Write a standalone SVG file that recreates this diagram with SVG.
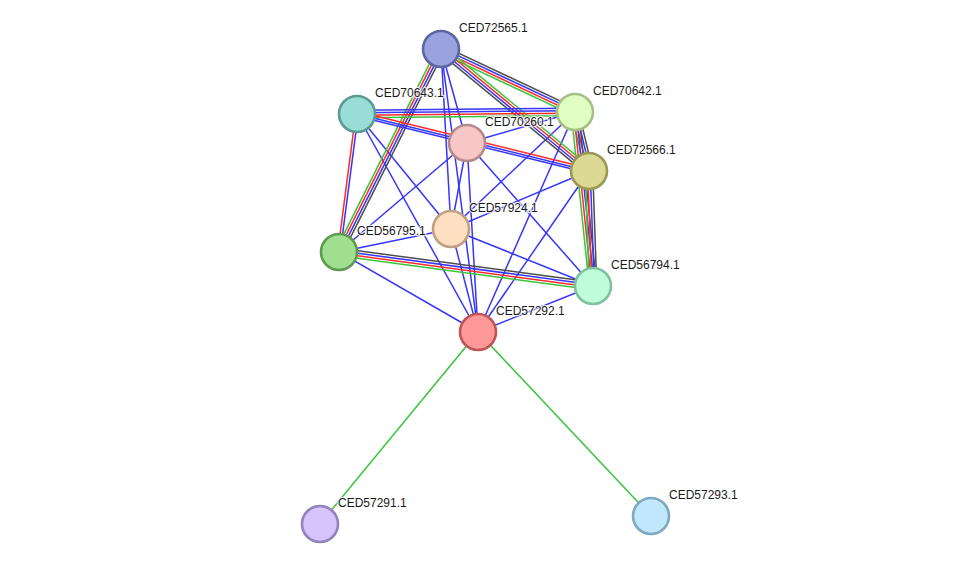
<svg xmlns="http://www.w3.org/2000/svg" width="975" height="570" viewBox="0 0 975 570">
<style>
line{stroke-width:1.5;fill:none}
.b{stroke:#3535fc}
.r{stroke:#fc2a2a}
.g{stroke:#3ac43a}
.k{stroke:#4d4d4d}
circle{stroke-width:2.6}
text{font-family:"Liberation Sans",Arial,sans-serif;font-size:12px;fill:#1a1a1a;stroke:#fff;stroke-width:2.5;stroke-opacity:0.8;paint-order:stroke;stroke-linejoin:round}
</style>
<rect width="975" height="570" fill="#fff"/>
<g id="connectors">
<line class="b" x1="441" y1="49" x2="467" y2="143"/>
<line class="b" x1="441" y1="49" x2="451" y2="229"/>
<line class="b" x1="441" y1="49" x2="478" y2="332"/>
<line class="b" x1="357" y1="114" x2="451" y2="229"/>
<line class="b" x1="357" y1="114" x2="478" y2="332"/>
<line class="b" x1="575" y1="112" x2="467" y2="143"/>
<line class="b" x1="575" y1="112" x2="451" y2="229"/>
<line class="b" x1="575" y1="112" x2="478" y2="332"/>
<line class="b" x1="467" y1="143" x2="339" y2="252"/>
<line class="b" x1="467" y1="143" x2="451" y2="229"/>
<line class="b" x1="467" y1="143" x2="478" y2="332"/>
<line class="b" x1="467" y1="143" x2="593" y2="286"/>
<line class="b" x1="589" y1="171" x2="451" y2="229"/>
<line class="b" x1="589" y1="171" x2="478" y2="332"/>
<line class="b" x1="451" y1="229" x2="339" y2="252"/>
<line class="b" x1="451" y1="229" x2="593" y2="286"/>
<line class="b" x1="451" y1="229" x2="478" y2="332"/>
<line class="b" x1="339" y1="252" x2="478" y2="332"/>
<line class="b" x1="593" y1="286" x2="478" y2="332"/>
<line class="g" x1="478" y1="332" x2="320" y2="524"/>
<line class="g" x1="478" y1="332" x2="651" y2="516"/>
<!-- 72565-70642 -->
<line class="k" x1="442.60" y1="45.61" x2="576.60" y2="108.61"/>
<line class="b" x1="441.53" y1="47.87" x2="575.53" y2="110.87"/>
<line class="r" x1="440.47" y1="50.13" x2="574.47" y2="113.13"/>
<line class="g" x1="439.40" y1="52.39" x2="573.40" y2="115.39"/>
<!-- 72565-72566 -->
<line class="g" x1="443.39" y1="46.11" x2="591.39" y2="168.11"/>
<line class="r" x1="441.80" y1="48.04" x2="589.80" y2="170.04"/>
<line class="b" x1="440.20" y1="49.96" x2="588.20" y2="171.96"/>
<line class="k" x1="438.61" y1="51.89" x2="586.61" y2="173.89"/>
<!-- 72565-56795 -->
<line class="g" x1="437.65" y1="47.32" x2="335.65" y2="250.32"/>
<line class="r" x1="439.88" y1="48.44" x2="337.88" y2="251.44"/>
<line class="b" x1="442.12" y1="49.56" x2="340.12" y2="252.56"/>
<line class="k" x1="444.35" y1="50.68" x2="342.35" y2="253.68"/>
<!-- 70643-70642 -->
<line class="b" x1="357" y1="110.25" x2="575" y2="108.25"/>
<line class="b" x1="357" y1="112.75" x2="575" y2="110.75"/>
<line class="r" x1="357" y1="115.25" x2="575" y2="113.25"/>
<line class="g" x1="357" y1="117.75" x2="575" y2="115.75"/>
<!-- 70643-72566 -->
<line class="r" x1="357.6" y1="111.57" x2="589.6" y2="168.57"/>
<line class="b" x1="357" y1="114" x2="589" y2="171"/>
<line class="b" x1="356.52" y1="115.94" x2="588.52" y2="172.94"/>
<!-- 70643-56795 -->
<line class="r" x1="355.76" y1="113.84" x2="337.76" y2="251.84"/>
<line class="b" x1="358.24" y1="114.16" x2="340.24" y2="252.16"/>
<!-- 70642-72566 -->
<line class="g" x1="571.35" y1="112.87" x2="585.35" y2="171.87"/>
<line class="r" x1="573.78" y1="112.29" x2="587.78" y2="171.29"/>
<line class="b" x1="576.22" y1="111.71" x2="590.22" y2="170.71"/>
<line class="k" x1="578.65" y1="111.13" x2="592.65" y2="170.13"/>
<!-- 70642-56794 -->
<line class="g" x1="571.27" y1="112.39" x2="589.27" y2="286.39"/>
<line class="r" x1="573.76" y1="112.13" x2="591.76" y2="286.13"/>
<line class="b" x1="576.24" y1="111.87" x2="594.24" y2="285.87"/>
<line class="k" x1="578.73" y1="111.61" x2="596.73" y2="285.61"/>
<!-- 72566-56794 -->
<line class="g" x1="585.25" y1="171.13" x2="589.25" y2="286.13"/>
<line class="r" x1="587.75" y1="171.04" x2="591.75" y2="286.04"/>
<line class="b" x1="590.25" y1="170.96" x2="594.25" y2="285.96"/>
<line class="k" x1="592.75" y1="170.87" x2="596.75" y2="285.87"/>
<!-- 56795-56794 -->
<line class="k" x1="339.50" y1="248.28" x2="593.50" y2="282.28"/>
<line class="b" x1="339.17" y1="250.76" x2="593.17" y2="284.76"/>
<line class="r" x1="338.83" y1="253.24" x2="592.83" y2="287.24"/>
<line class="g" x1="338.50" y1="255.72" x2="592.50" y2="289.72"/>
</g>
<g id="n72565"><circle cx="441" cy="49" r="18" fill="#9aa3df" stroke="#5c66a3"/><text x="459" y="32">CED72565.1</text></g>
<g id="n70643"><circle cx="357" cy="114" r="18" fill="#98ded6" stroke="#5d9a93"/><text x="375" y="97">CED70643.1</text></g>
<g id="n70642"><circle cx="575" cy="112" r="18" fill="#e0fec2" stroke="#a7bf84"/><text x="593" y="95">CED70642.1</text></g>
<g id="n70260"><circle cx="467" cy="143" r="18" fill="#f7c7c7" stroke="#b48a8a"/><text x="485" y="126">CED70260.1</text></g>
<g id="n72566"><circle cx="589" cy="171" r="18" fill="#dcd995" stroke="#9a9855"/><text x="607" y="154">CED72566.1</text></g>
<g id="n57924"><circle cx="451" cy="229" r="18" fill="#fedfc2" stroke="#c0a080"/><text x="469" y="212">CED57924.1</text></g>
<g id="n56795"><circle cx="339" cy="252" r="18" fill="#a1df90" stroke="#5f9a52"/><text x="357" y="235">CED56795.1</text></g>
<g id="n56794"><circle cx="593" cy="286" r="18" fill="#c0fedb" stroke="#80c09e"/><text x="611" y="269">CED56794.1</text></g>
<g id="n57292"><circle cx="478" cy="332" r="18" fill="#ff9999" stroke="#c05555"/><text x="496" y="315">CED57292.1</text></g>
<g id="n57291"><circle cx="320" cy="524" r="18" fill="#d5c5fc" stroke="#9580c0"/><text x="338" y="507">CED57291.1</text></g>
<g id="n57293"><circle cx="651" cy="516" r="18" fill="#c0e7fc" stroke="#80a8c0"/><text x="669" y="499">CED57293.1</text></g>
</svg>
